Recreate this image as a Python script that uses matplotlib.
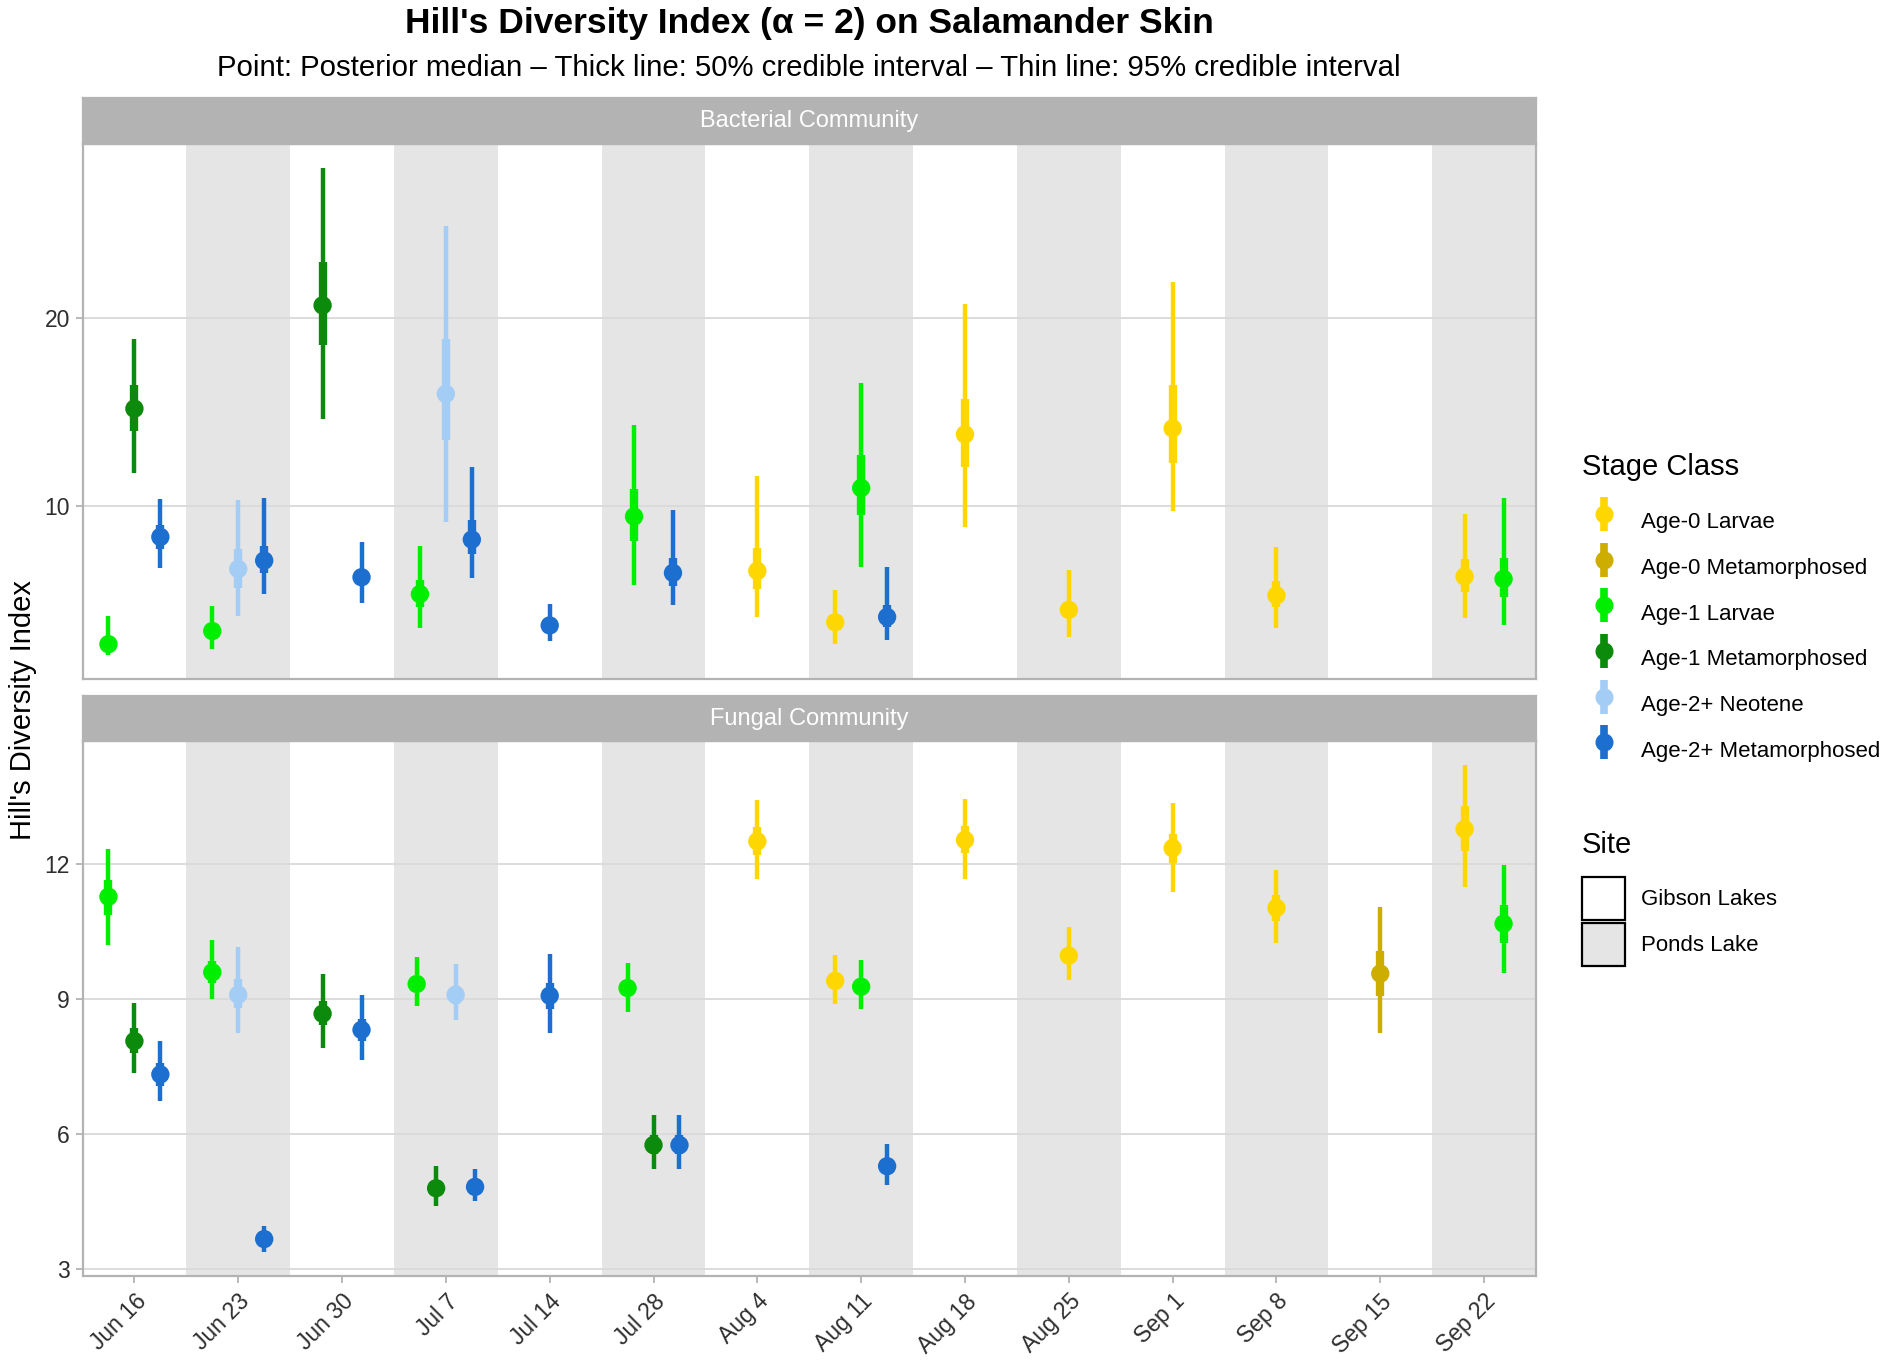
import matplotlib
matplotlib.use("Agg")
import matplotlib.pyplot as plt
from matplotlib.lines import Line2D
from matplotlib.patches import Patch
from matplotlib.legend_handler import HandlerTuple

plt.rcParams['font.family'] = ['Liberation Sans', 'DejaVu Sans']

# ---------------- data ----------------
dates = ["Jun 16", "Jun 23", "Jun 30", "Jul 7", "Jul 14", "Jul 28", "Aug 4",
         "Aug 11", "Aug 18", "Aug 25", "Sep 1", "Sep 8", "Sep 15", "Sep 22"]
sites = ["Gibson Lakes", "Ponds Lake", "Gibson Lakes", "Ponds Lake", "Gibson Lakes",
         "Ponds Lake", "Gibson Lakes", "Ponds Lake", "Gibson Lakes", "Ponds Lake",
         "Gibson Lakes", "Ponds Lake", "Gibson Lakes", "Ponds Lake"]
site_levels = ["Gibson Lakes", "Ponds Lake"]
site_colors = ["#FFFFFF", "#E5E5E5"]

stages = ["Age-0 Larvae", "Age-0 Metamorphosed", "Age-1 Larvae",
          "Age-1 Metamorphosed", "Age-2+ Neotene", "Age-2+ Metamorphosed"]
stage_colors = ["#FFD700", "#CDAD00", "#00EE00", "#0B8A0B", "#A4CDF6", "#1C6ECF"]

# Bacterial community
bac_date = ["Jun 16", "Jun 16", "Jun 16", "Jun 23", "Jun 23", "Jun 23", "Jun 30", "Jun 30",
            "Jul 7", "Jul 7", "Jul 7", "Jul 14", "Jul 28", "Jul 28", "Aug 4", "Aug 11",
            "Aug 11", "Aug 11", "Aug 18", "Aug 25", "Sep 1", "Sep 8", "Sep 22", "Sep 22"]
bac_stage = ["Age-1 Larvae", "Age-1 Metamorphosed", "Age-2+ Metamorphosed",
             "Age-1 Larvae", "Age-2+ Neotene", "Age-2+ Metamorphosed",
             "Age-1 Metamorphosed", "Age-2+ Metamorphosed",
             "Age-1 Larvae", "Age-2+ Neotene", "Age-2+ Metamorphosed",
             "Age-2+ Metamorphosed",
             "Age-1 Larvae", "Age-2+ Metamorphosed",
             "Age-0 Larvae",
             "Age-0 Larvae", "Age-1 Larvae", "Age-2+ Metamorphosed",
             "Age-0 Larvae", "Age-0 Larvae", "Age-0 Larvae", "Age-0 Larvae",
             "Age-0 Larvae", "Age-1 Larvae"]
bac_med = [2.61, 15.17, 8.33, 3.31, 6.62, 7.07, 20.68, 6.18, 5.28, 15.96, 8.19, 3.61,
           9.42, 6.41, 6.52, 3.78, 10.94, 4.06, 13.80, 4.44, 14.12, 5.21, 6.22, 6.09]
bac_lo50 = [2.40, 13.98, 7.69, 3.00, 5.58, 6.41, 18.55, 5.81, 4.59, 13.48, 7.41, 3.27,
            8.10, 5.71, 5.56, 3.36, 9.51, 3.55, 12.05, 4.02, 12.29, 4.59, 5.39, 5.15]
bac_hi50 = [2.85, 16.43, 8.97, 3.65, 7.69, 7.84, 23.01, 6.56, 6.03, 18.87, 9.23, 4.00,
            10.88, 7.20, 7.73, 4.10, 12.71, 4.72, 15.68, 4.87, 16.43, 5.96, 7.16, 7.22]
bac_lo95 = [2.05, 11.73, 6.65, 2.37, 4.12, 5.30, 14.61, 4.83, 3.46, 9.14, 6.15, 2.76,
            5.77, 4.68, 4.06, 2.61, 6.71, 2.84, 8.85, 2.99, 9.70, 3.46, 3.98, 3.65]
bac_hi95 = [4.12, 18.91, 10.36, 4.64, 10.28, 10.41, 27.99, 8.06, 7.82, 24.94, 12.07, 4.77,
            14.30, 9.79, 11.58, 5.49, 16.52, 6.71, 20.75, 6.56, 21.94, 7.78, 9.53, 10.41]

# Fungal community
fun_date = ["Jun 16", "Jun 16", "Jun 16", "Jun 23", "Jun 23", "Jun 23", "Jun 30", "Jun 30",
            "Jul 7", "Jul 7", "Jul 7", "Jul 7", "Jul 14", "Jul 28", "Jul 28", "Jul 28",
            "Aug 4", "Aug 11", "Aug 11", "Aug 11", "Aug 18", "Aug 25", "Sep 1", "Sep 8",
            "Sep 15", "Sep 22", "Sep 22"]
fun_stage = ["Age-1 Larvae", "Age-1 Metamorphosed", "Age-2+ Metamorphosed",
             "Age-1 Larvae", "Age-2+ Neotene", "Age-2+ Metamorphosed",
             "Age-1 Metamorphosed", "Age-2+ Metamorphosed",
             "Age-1 Larvae", "Age-1 Metamorphosed", "Age-2+ Neotene", "Age-2+ Metamorphosed",
             "Age-2+ Metamorphosed",
             "Age-1 Larvae", "Age-1 Metamorphosed", "Age-2+ Metamorphosed",
             "Age-0 Larvae",
             "Age-0 Larvae", "Age-1 Larvae", "Age-2+ Metamorphosed",
             "Age-0 Larvae", "Age-0 Larvae", "Age-0 Larvae", "Age-0 Larvae",
             "Age-0 Metamorphosed", "Age-0 Larvae", "Age-1 Larvae"]
fun_med = [11.28, 8.07, 7.33, 9.60, 9.10, 3.67, 8.68, 8.32, 9.34, 4.80, 9.10, 4.83, 9.08,
           9.25, 5.76, 5.76, 12.51, 9.41, 9.28, 5.29, 12.54, 9.97, 12.36, 11.03, 9.57,
           12.78, 10.68]
fun_lo50 = [10.87, 7.81, 7.07, 9.37, 8.80, 3.53, 8.42, 8.07, 9.17, 4.62, 8.90, 4.69, 8.78,
            9.08, 5.55, 5.55, 12.21, 9.24, 9.11, 5.13, 12.25, 9.80, 12.02, 10.73, 9.08,
            12.30, 10.26]
fun_hi50 = [11.65, 8.36, 7.58, 9.85, 9.45, 3.80, 8.96, 8.57, 9.52, 4.97, 9.29, 4.98, 9.37,
            9.42, 5.98, 5.98, 12.82, 9.58, 9.45, 5.45, 12.85, 10.13, 12.68, 11.31, 10.07,
            13.29, 11.09]
fun_lo95 = [10.21, 7.36, 6.74, 9.00, 8.24, 3.39, 7.92, 7.64, 8.84, 4.40, 8.53, 4.52, 8.25,
            8.72, 5.22, 5.22, 11.67, 8.90, 8.78, 4.87, 11.67, 9.42, 11.38, 10.25, 8.24,
            11.49, 9.58]
fun_hi95 = [12.34, 8.92, 8.08, 10.32, 10.16, 3.97, 9.56, 9.10, 9.94, 5.29, 9.78, 5.22, 10.01,
            9.80, 6.42, 6.42, 13.42, 9.98, 9.87, 5.79, 13.46, 10.60, 13.36, 11.87, 11.05,
            14.20, 11.99]

bac_ticks = [10, 20]
fun_ticks = [3, 6, 9, 12]

# ---------------- styling ----------------
W = 0.75
FIG_W, FIG_H = 1902, 1363
fig = plt.figure(figsize=(FIG_W / 100, FIG_H / 100), dpi=100)

def fx(px):
    return px / FIG_W

def fy(py):
    return 1 - py / FIG_H

L, R = 82.5, 1536
panels = [
    dict(top=144, bot=679, stop=98, title="Bacterial Community",
         d=bac_date, s=bac_stage, med=bac_med, lo50=bac_lo50, hi50=bac_hi50,
         lo95=bac_lo95, hi95=bac_hi95, ticks=bac_ticks, xlab=False),
    dict(top=741, bot=1276, stop=696, title="Fungal Community",
         d=fun_date, s=fun_stage, med=fun_med, lo50=fun_lo50, hi50=fun_hi50,
         lo95=fun_lo95, hi95=fun_hi95, ticks=fun_ticks, xlab=True),
]

frame_col = "#B3B3B3"
text_col = "#2E2E2E"

for p in panels:
    ax = fig.add_axes([fx(L), fy(p["bot"]), fx(R) - fx(L), fy(p["top"]) - fy(p["bot"])])
    # site background bands
    for i, site in enumerate(sites):
        ax.axvspan(i + 0.5, i + 1.5, color=site_colors[site_levels.index(site)],
                   lw=0, zorder=0)
    # dodge positions
    xs, cols = [], []
    for k in range(len(p["d"])):
        grp = sorted(stages.index(p["s"][j]) for j in range(len(p["d"])) if p["d"][j] == p["d"][k])
        n = len(grp)
        pos = grp.index(stages.index(p["s"][k]))
        xs.append(dates.index(p["d"][k]) + 1 - W / 2 + W / n * (pos + 0.5))
        cols.append(stage_colors[stages.index(p["s"][k])])
    ax.vlines(xs, p["lo95"], p["hi95"], colors=cols, lw=3.2, zorder=3)
    ax.vlines(xs, p["lo50"], p["hi50"], colors=cols, lw=6.0, zorder=4)
    ax.scatter(xs, p["med"], s=175, c=cols, lw=0, zorder=5)

    ax.set_xlim(0.5, len(dates) + 0.5)
    ax.margins(y=0.05)
    ax.set_yticks(p["ticks"])
    ax.set_yticklabels([str(t) for t in p["ticks"]])
    ax.set_axisbelow(True)
    ax.yaxis.grid(True, color="#D9D9D9", lw=1.3)
    ax.xaxis.grid(False)
    for sp in ax.spines.values():
        sp.set_color(frame_col)
        sp.set_linewidth(1.6)
    ax.tick_params(axis="y", colors=frame_col, labelcolor=text_col, labelsize=16.5,
                   length=5, width=1.3, pad=4)
    ax.set_xticks(range(1, len(dates) + 1))
    if p["xlab"]:
        ax.set_xticklabels(dates, rotation=45, ha="right", rotation_mode="anchor")
        ax.tick_params(axis="x", colors=frame_col, labelcolor=text_col, labelsize=16.5,
                       length=5, width=1.3, pad=5)
    else:
        ax.tick_params(axis="x", length=0, labelbottom=False)

    # strip
    sax = fig.add_axes([fx(L), fy(p["top"]), fx(R) - fx(L), fy(p["stop"]) - fy(p["top"])])
    sax.set_facecolor(frame_col)
    sax.set_xticks([])
    sax.set_yticks([])
    for sp in sax.spines.values():
        sp.set_color(frame_col)
        sp.set_linewidth(1.6)
    sax.text(0.5, 0.5, p["title"], color="white", fontsize=17, ha="center", va="center",
             transform=sax.transAxes)

# titles
fig.text(fx(809), fy(24), "Hill's Diversity Index (\u03b1 = 2) on Salamander Skin",
         fontsize=25.5, fontweight="bold", ha="center", va="center")
fig.text(fx(809), fy(68),
         "Point: Posterior median \u2013 Thick line: 50% credible interval \u2013 Thin line: 95% credible interval",
         fontsize=21.2, ha="center", va="center")
fig.text(fx(23), fy(710), "Hill's Diversity Index", fontsize=21, rotation=90,
         ha="center", va="center")

# legends
LEG_X = 1582
fig.text(fx(LEG_X), fy(467), "Stage Class", fontsize=21, ha="left", va="center")
stage_handles = [(Line2D([], [], color=c, marker="|", ms=25, mew=5.5, ls="none"),
                  Line2D([], [], color=c, marker="o", ms=12, ls="none"))
                 for c in stage_colors]
leg1 = fig.legend(stage_handles, stages, loc="upper left",
                  bbox_to_anchor=(fx(LEG_X), fy(500)), frameon=False, fontsize=16,
                  borderpad=0, borderaxespad=0,
                  handlelength=1.95, handleheight=2.6, handletextpad=0.72,
                  labelspacing=0.12,
                  handler_map={tuple: HandlerTuple(ndivide=1, pad=0)})

fig.text(fx(LEG_X), fy(845), "Site", fontsize=21, ha="left", va="center")
site_handles = [Patch(facecolor=c, edgecolor="black", lw=1.6) for c in site_colors]
leg2 = fig.legend(site_handles, site_levels, loc="upper left",
                  bbox_to_anchor=(fx(LEG_X), fy(877)), frameon=False, fontsize=16,
                  borderpad=0, borderaxespad=0,
                  handlelength=1.95, handleheight=2.6, handletextpad=0.72,
                  labelspacing=0.12)

fig.savefig("out.png", dpi=100, facecolor="white")
